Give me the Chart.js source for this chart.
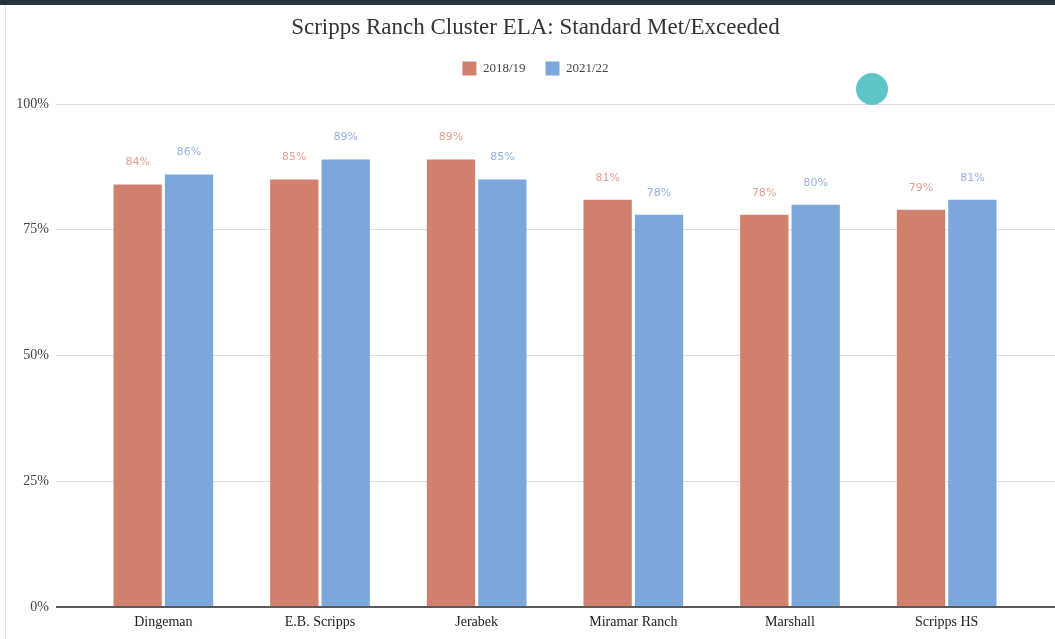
<!DOCTYPE html>
<html>
<head>
<meta charset="utf-8">
<script src="https://cdn.jsdelivr.net/npm/chart.js@4.4.0/dist/chart.umd.min.js"></script>
<style>
  html, body { margin: 0; padding: 0; background: #fff; }
  #wrap { position: relative; width: 1055px; height: 639px; overflow: hidden; }
  #topbar { position: absolute; left: 0; top: 0; width: 1055px; height: 5px; background: #28323e; }
  #leftline { position: absolute; left: 5px; top: 5px; width: 1px; height: 634px; background: #e2e6ea; }
  #cursor { position: absolute; left: 856px; top: 73px; width: 32px; height: 32px; border-radius: 50%; background: #5fc4c9; }
</style>
</head>
<body>
<div id="wrap">
  <canvas id="elaChart" width="1055" height="639"></canvas>
  <div id="topbar"></div>
  <div id="leftline"></div>
  <div id="cursor"></div>
</div>
<script>
// chart data
const schools = ['Dingeman', 'E.B. Scripps', 'Jerabek', 'Miramar Ranch', 'Marshall', 'Scripps HS'];
const year1819 = [84, 85, 89, 81, 78, 79];
const year2122 = [86, 89, 85, 78, 80, 81];
const yTicks = [0, 25, 50, 75, 100];

const RED = '#d2806e';
const BLUE = '#7ba7da';

// percent labels above each bar
const barLabels = {
    id: 'barLabels',
    afterDatasetsDraw(chart) {
        const ctx = chart.ctx;
        ctx.save();
        ctx.font = '11px "DejaVu Sans"';
        ctx.textAlign = 'center';
        ctx.textBaseline = 'middle';
        chart.data.datasets.forEach((ds, i) => {
            const meta = chart.getDatasetMeta(i);
            ctx.fillStyle = ds.labelColor;
            meta.data.forEach((bar, j) => {
                ctx.fillText(ds.data[j] + '%', bar.x, bar.y - 22);
            });
        });
        ctx.restore();
    }
};

// extra room under the legend
const legendGap = {
    id: 'legendGap',
    beforeInit(chart) {
        if (!chart.legend) return;
        const origFit = chart.legend.fit;
        chart.legend.fit = function () {
            origFit.bind(chart.legend)();
            this.height += 18.5;
        };
    }
};

const gridColor = c => (c.tick && c.tick.value === 0) ? '#5a5a5a' : '#dedede';
const gridWidth = c => (c.tick && c.tick.value === 0) ? 2 : 1;

new Chart(document.getElementById('elaChart').getContext('2d'), {
    type: 'bar',
    data: {
        labels: schools,
        datasets: [{
            label: '2018/19',
            data: year1819,
            backgroundColor: RED,
            borderWidth: 0,
            labelColor: '#e6a092',
            categoryPercentage: 0.656,
            barPercentage: 0.94
        }, {
            label: '2021/22',
            data: year2122,
            backgroundColor: BLUE,
            borderWidth: 0,
            labelColor: '#93b3df',
            categoryPercentage: 0.656,
            barPercentage: 0.94
        }]
    },
    options: {
        responsive: false,
        animation: false,
        layout: { padding: { top: 8, left: 16, right: 0, bottom: 0 } },
        plugins: {
            title: {
                display: true,
                text: 'Scripps Ranch Cluster ELA: Standard Met/Exceeded',
                color: '#333',
                font: { family: '"Liberation Serif"', size: 23, weight: 'normal' },
                padding: { top: 6, bottom: 0 }
            },
            legend: {
                position: 'top',
                labels: {
                    color: '#444',
                    font: { family: '"Liberation Serif"', size: 13 },
                    boxWidth: 14,
                    boxHeight: 14,
                    padding: 20
                }
            },
            tooltip: { enabled: false }
        },
        scales: {
            x: {
                grid: { display: false, drawTicks: false },
                border: { display: false },
                ticks: {
                    color: '#222',
                    font: { family: '"Liberation Serif"', size: 14 },
                    padding: 7
                },
                afterFit(scale) { scale.height = 32; }
            },
            y: {
                min: 0,
                max: 100,
                afterBuildTicks(scale) { scale.ticks = yTicks.map(v => ({ value: v })); },
                grid: { color: gridColor, lineWidth: gridWidth, tickLength: 29 },
                border: { display: false },
                ticks: {
                    color: '#444',
                    font: { family: '"Liberation Serif"', size: 14 },
                    padding: 7,
                    callback: v => v + '%'
                },
                afterFit(scale) { scale.width = 69; }
            },
            y2: {
                position: 'right',
                min: 0,
                max: 100,
                afterBuildTicks(scale) { scale.ticks = yTicks.map(v => ({ value: v })); },
                grid: { color: gridColor, lineWidth: gridWidth, tickLength: 30, drawOnChartArea: false },
                border: { display: false },
                ticks: { display: false },
                afterFit(scale) { scale.width = 30; }
            }
        }
    },
    plugins: [barLabels, legendGap]
});
</script>
</body>
</html>
